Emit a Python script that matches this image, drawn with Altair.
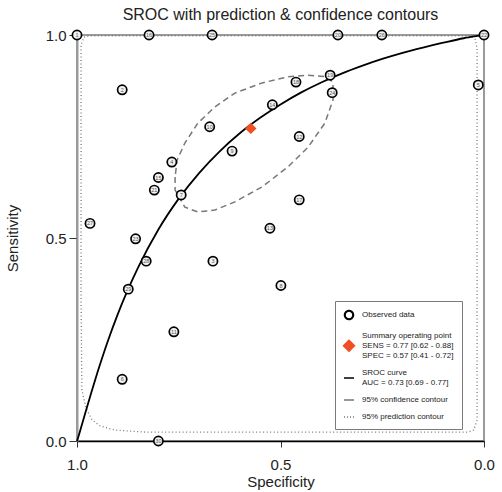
import altair as alt
import pandas as pd

FONT = "Liberation Sans"

# ---- observed studies (specificity, sensitivity, id) ----
study_spec = [1.0, 0.823, 0.668, 0.359, 0.251, 0.0,
              0.889, 0.378, 0.462, 0.373, 0.520, 0.454, 0.454, 0.526, 0.014,
              0.674, 0.619, 0.767, 0.800, 0.810, 0.744, 0.968, 0.856, 0.830,
              0.666, 0.499, 0.874, 0.762, 0.889, 0.800]
study_sens = [1.0, 1.0, 1.0, 1.0, 1.0, 1.0,
              0.865, 0.901, 0.884, 0.858, 0.828, 0.750, 0.594, 0.524, 0.877,
              0.774, 0.714, 0.687, 0.649, 0.618, 0.606, 0.536, 0.498, 0.443,
              0.443, 0.383, 0.374, 0.269, 0.152, 0.0]
study_id = ["1", "16", "25", "20", "26", "22", "2", "19", "18", "24", "14", "12",
            "17", "13", "5", "10", "9", "4", "15", "21", "7", "27", "23", "28",
            "3", "8", "29", "11", "6", "30"]

# ---- summary operating point ----
summary_spec = [0.573]
summary_sens = [0.770]

# ---- SROC curve ----
sroc_spec = [1.0, 0.997, 0.99, 0.98, 0.965, 0.95, 0.925, 0.9, 0.85, 0.8, 0.75, 0.7,
             0.65, 0.6, 0.55, 0.5, 0.45, 0.4, 0.35, 0.3, 0.25, 0.2, 0.15, 0.1,
             0.05, 0.02, 0.0]
sroc_sens = [0.0, 0.009, 0.033, 0.068, 0.119, 0.168, 0.244, 0.312, 0.427, 0.521,
             0.597, 0.660, 0.713, 0.758, 0.796, 0.829, 0.858, 0.883, 0.905, 0.924,
             0.941, 0.956, 0.969, 0.981, 0.992, 0.997, 1.0]

# ---- 95% confidence contour ----
conf_spec = [0.759, 0.759, 0.735, 0.703, 0.661, 0.612, 0.545, 0.482, 0.432, 0.391,
             0.371, 0.371, 0.383, 0.432, 0.482, 0.545, 0.612, 0.661, 0.703, 0.735,
             0.754, 0.759]
conf_sens = [0.650, 0.618, 0.576, 0.564, 0.569, 0.589, 0.626, 0.675, 0.724, 0.783,
             0.840, 0.882, 0.897, 0.901, 0.897, 0.882, 0.857, 0.823, 0.783, 0.734,
             0.692, 0.650]

# ---- 95% prediction contour ----
pred_spec = [0.983, 0.968, 0.452, 0.034, 0.022, 0.017, 0.017, 0.025, 0.039, 0.452,
             0.833, 0.907, 0.943, 0.963, 0.978, 0.988, 0.990, 0.990, 0.983]
pred_sens = [0.995, 0.998, 0.998, 0.998, 0.990, 0.968, 0.052, 0.027, 0.022, 0.022,
             0.022, 0.027, 0.037, 0.052, 0.081, 0.126, 0.347, 0.975, 0.995]

legend_labels = [
    "Observed data",
    "Summary operating point|SENS = 0.77 [0.62 - 0.88]|SPEC = 0.57 [0.41 - 0.72]",
    "SROC curve|AUC = 0.73 [0.69 - 0.77]",
    "95% confidence contour",
    "95% prediction contour",
]
legend_colors = ["black", "#f04e23", "black", "#777777", "#777777"]

studies = pd.DataFrame({"spec": study_spec, "sens": study_sens, "id": study_id,
                        "series": legend_labels[0]})
summary = pd.DataFrame({"spec": summary_spec, "sens": summary_sens,
                        "series": legend_labels[1]})
sroc = pd.DataFrame({"spec": sroc_spec, "sens": sroc_sens, "i": range(len(sroc_spec)),
                     "series": legend_labels[2]})
conf = pd.DataFrame({"spec": conf_spec, "sens": conf_sens, "i": range(len(conf_spec)),
                     "series": legend_labels[3]})
pred = pd.DataFrame({"spec": pred_spec, "sens": pred_sens, "i": range(len(pred_spec)),
                     "series": legend_labels[4]})

ring = "M0.9,0A0.9,0.9 0 1,1 -0.9,0A0.9,0.9 0 1,1 0.9,0Z M0.78,0A0.78,0.78 0 1,0 -0.78,0A0.78,0.78 0 1,0 0.78,0Z"
shapes = f"['{ring}','M0,0.85L1.1,1.95L0,3.05L-1.1,1.95Z','M-1,1L1,1','stroke','stroke'][datum.index]"

legend = alt.Legend(
    title=None, orient="none", legendX=258, legendY=266,
    fillColor="white", strokeColor="#7a7a7a", padding=8, rowPadding=7,
    labelFont=FONT, labelFontSize=8, labelColor="#222", labelLimit=400,
    labelOffset=7, symbolSize=100, symbolStrokeWidth=1.5,
    labelExpr="split(datum.label, '|')",
    symbolType=alt.ExprRef(shapes),
    symbolStrokeColor=alt.ExprRef("['black','#f04e23','black','#777777','#777777'][datum.index]"),
    symbolDash=alt.ExprRef("[[1,0],[1,0],[1,0],[1,0],[1,2]][datum.index]"),
    symbolOpacity=1,
)

color = alt.Color("series:N", scale=alt.Scale(domain=legend_labels, range=legend_colors),
                  legend=legend)

xenc = alt.X("spec:Q", scale=alt.Scale(domain=[1, 0], nice=False, zero=False),
             axis=alt.Axis(values=[1, 0.5, 0], format=".1f", title="Specificity"))
yenc = alt.Y("sens:Q", scale=alt.Scale(domain=[0, 1], nice=False, zero=False),
             axis=alt.Axis(values=[0, 0.5, 1], format=".1f", title="Sensitivity"))

pred_layer = alt.Chart(pred).mark_line(strokeWidth=1.3, strokeDash=[1, 2.5]).encode(
    x=xenc, y=yenc, color=color, order="i:Q")
conf_layer = alt.Chart(conf).mark_line(strokeWidth=1.5, strokeDash=[6, 4],
                                       interpolate="linear").encode(
    x=xenc, y=yenc, color=color, order="i:Q")
sroc_layer = alt.Chart(sroc).mark_line(strokeWidth=1.8, interpolate="monotone").encode(
    x=xenc, y=yenc, color=color, order="i:Q")
study_layer = alt.Chart(studies).mark_point(
    shape="circle", size=85, filled=False, strokeWidth=1.7, fill="#f2f2f2", fillOpacity=1,
    opacity=1).encode(x=xenc, y=yenc, color=color)
study_text = alt.Chart(studies).mark_text(fontSize=5.5, font=FONT, color="#555").encode(
    x=xenc, y=yenc, text="id:N")
summary_layer = alt.Chart(summary).mark_point(
    shape="diamond", size=130, filled=True, opacity=1).encode(x=xenc, y=yenc, color=color)

chart = alt.layer(pred_layer, conf_layer, sroc_layer, study_layer, study_text, summary_layer).properties(
    width=407, height=406,
    autosize="none",
    padding={"left": 77, "top": 35, "right": 18, "bottom": 51},
    title=alt.TitleParams("SROC with prediction & confidence contours", font=FONT,
                          fontSize=16, fontWeight="normal", color="#222",
                          anchor="middle", frame="group", offset=4),
).configure_view(stroke="#9a9a9a", strokeWidth=2).configure_axis(
    grid=False, labelFont=FONT, labelFontSize=15, labelColor="#222",
    titleFont=FONT, titleFontSize=15, titleFontWeight="normal", titleColor="#222",
    tickColor="#333", domainWidth=1.5,
).configure_axisX(domainColor="black", tickSize=6, labelPadding=10, titlePadding=2,
                  labelFlush=False
).configure_axisY(domainColor="#9a9a9a", domainWidth=2, tickSize=8, labelPadding=3,
                  titlePadding=25)

chart.save("out.html", embed_options={"renderer": "svg", "actions": False})
